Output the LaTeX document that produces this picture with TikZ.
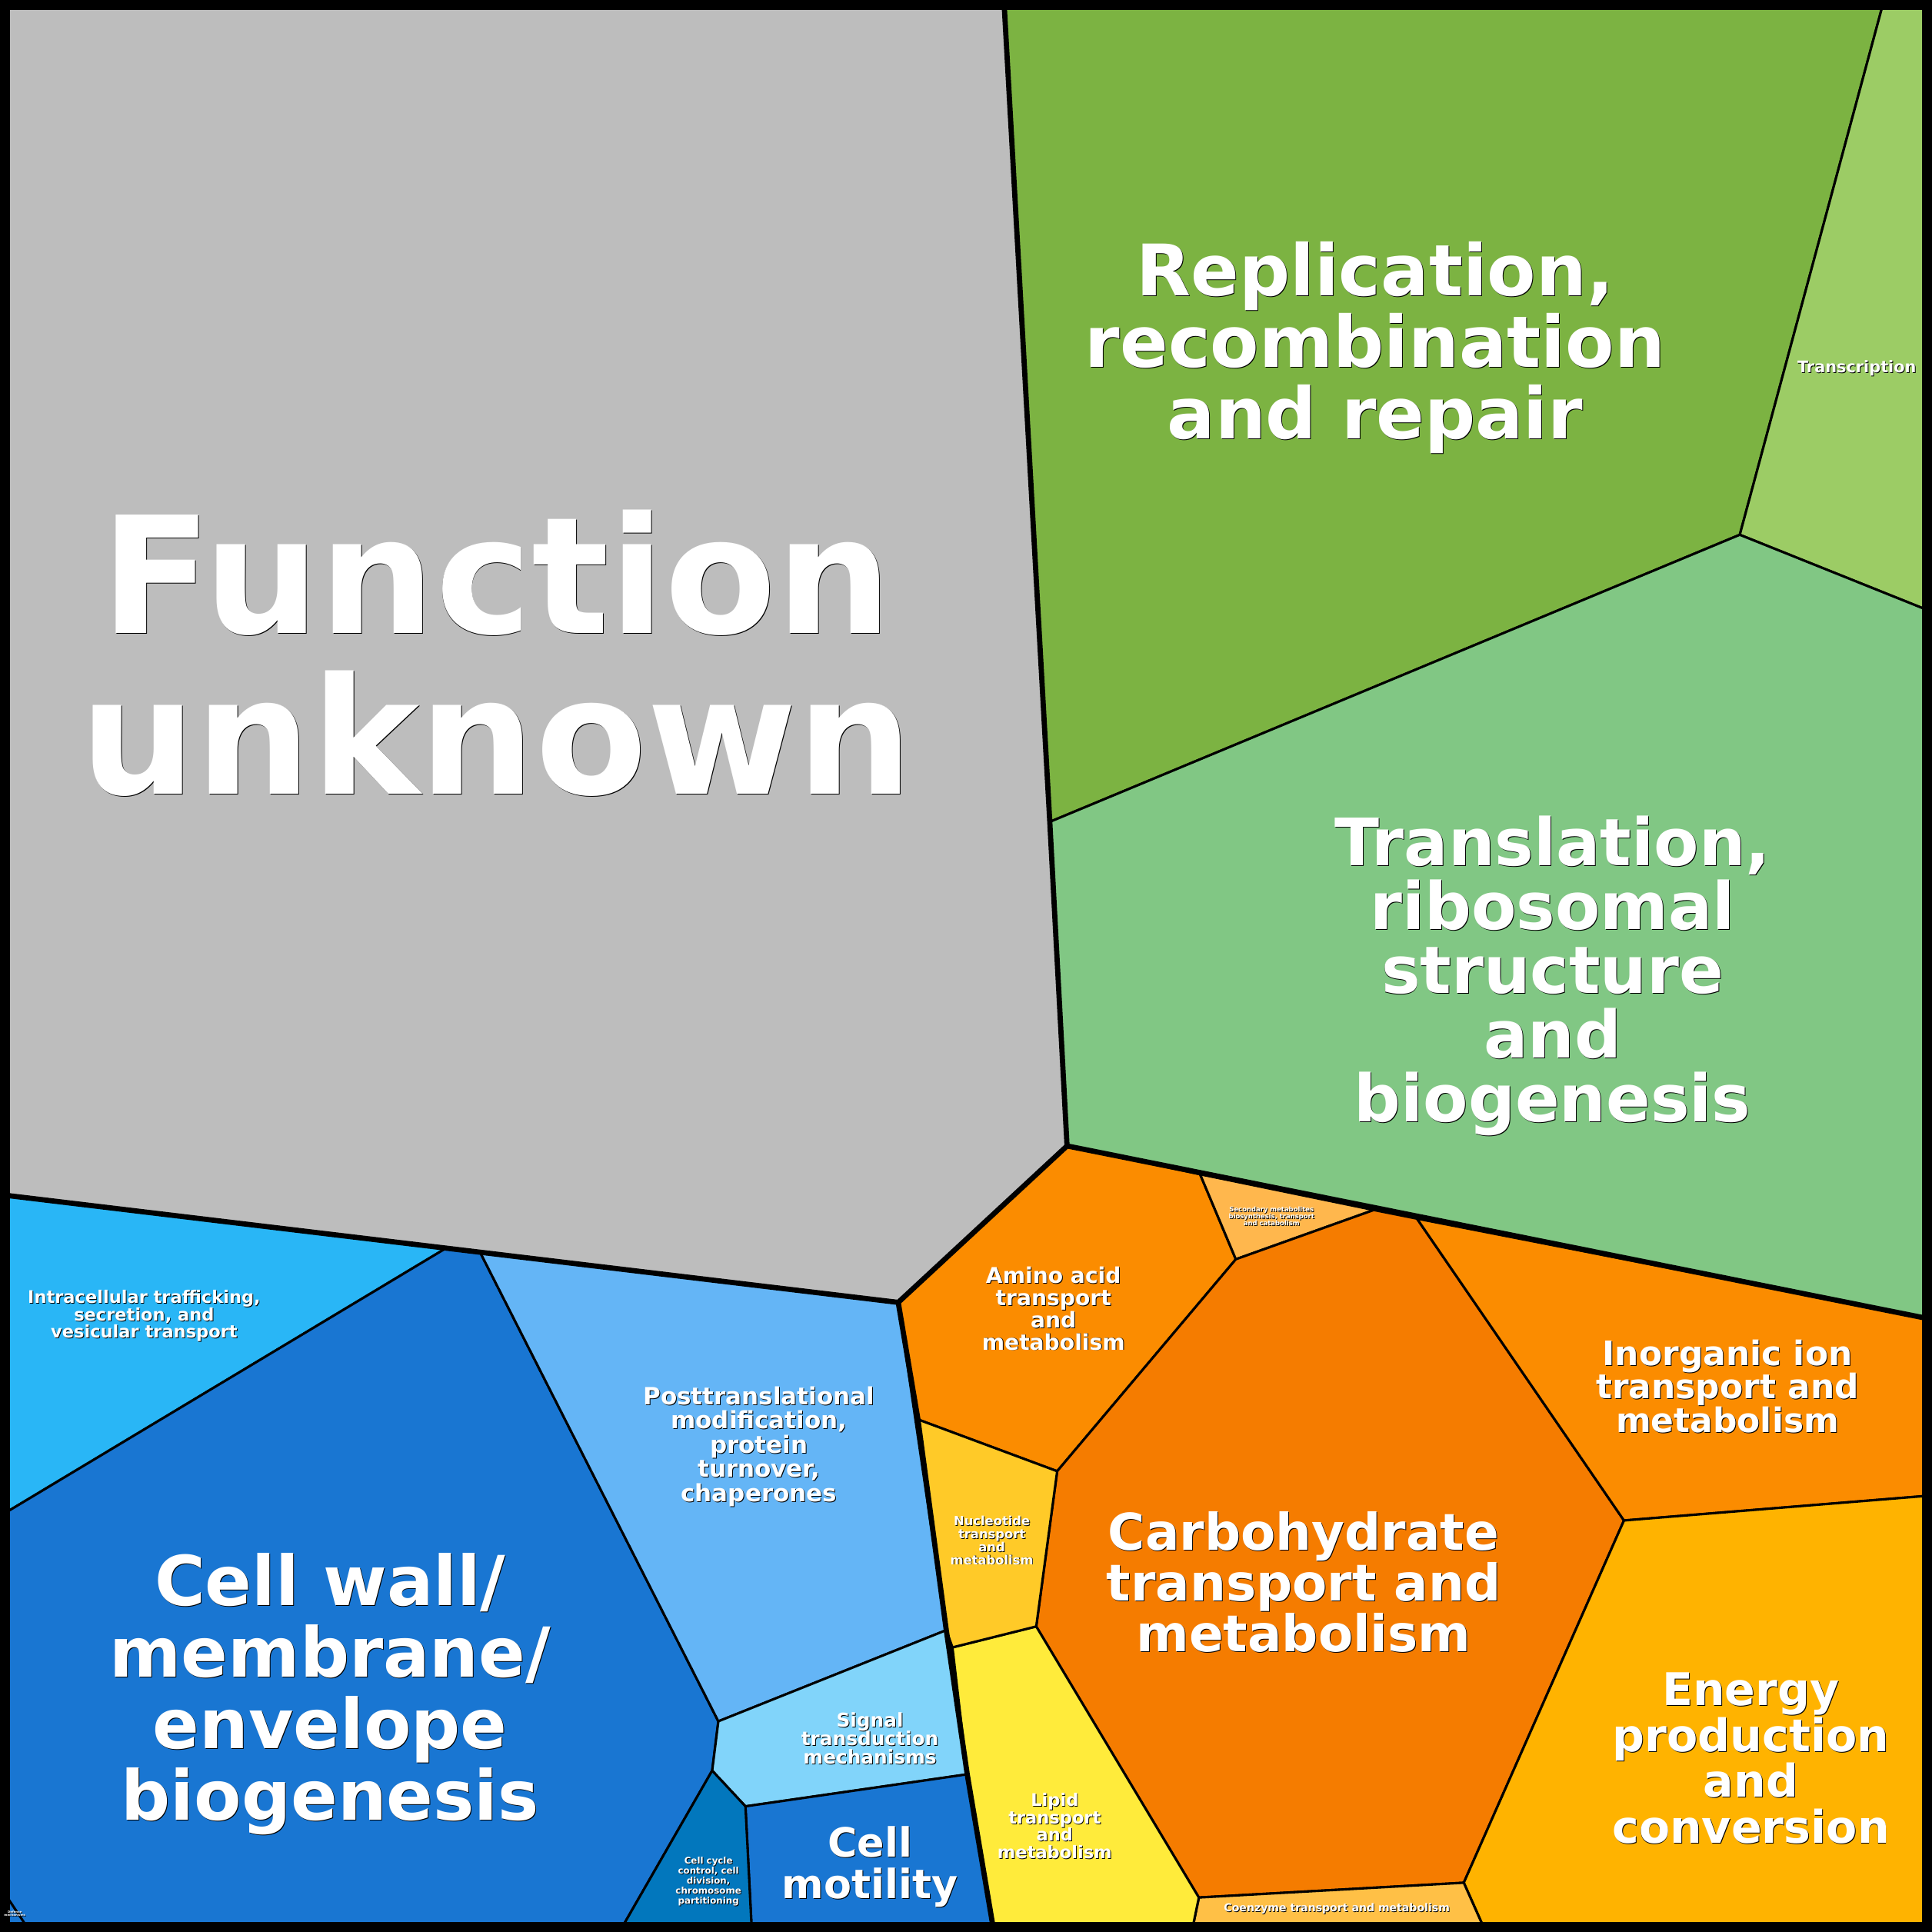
\documentclass[tikz,border=0pt]{standalone}
\usepackage{fontspec}
\setmainfont{DejaVu Sans}
\definecolor{cgray}{HTML}{BDBDBD}
\definecolor{crep}{HTML}{7CB342}
\definecolor{ctrc}{HTML}{9CCC65}
\definecolor{ctrl}{HTML}{81C784}
\definecolor{camino}{HTML}{FB8C00}
\definecolor{csec}{HTML}{FFB74D}
\definecolor{ccarb}{HTML}{F57C00}
\definecolor{cener}{HTML}{FFB300}
\definecolor{ccoen}{HTML}{FFC046}
\definecolor{clip}{HTML}{FFEB3B}
\definecolor{cnuc}{HTML}{FFCA28}
\definecolor{cintra}{HTML}{29B6F6}
\definecolor{cwall}{HTML}{1976D2}
\definecolor{cpost}{HTML}{64B5F6}
\definecolor{csig}{HTML}{81D4FA}
\definecolor{ccyc}{HTML}{0277BD}
\newcommand{\mynls}{\lineskiplimit -100pt\relax}
\tikzset{cell/.style={draw=black,line width=0.55pt,line join=round},
  grp/.style={draw=black,line width=1.2pt,line join=round},
  lbl/.style={align=center,text=white,inner sep=0pt},
  shd/.style={align=center,text=black,inner sep=0pt}}
\newcommand{\lab}[5]{%
  \node[shd,font={\bfseries\fontsize{#3}{#4}\selectfont\mynls}] (#1s) at ($#2+(0.6,0.6)$) {#5};
  \node[lbl,font={\bfseries\fontsize{#3}{#4}\selectfont\mynls}] (#1) at #2 {#5};}
\usetikzlibrary{calc}
\begin{document}
\begin{tikzpicture}[x=0.01cm,y=-0.01cm]
\useasboundingbox (0,0) rectangle (1568,1568);
\fill[black] (0,0) rectangle (1568,1568);
% gray
\path[cell,fill=cgray] (4,4)--(815,4)--(866,930)--(729,1057)--(4,970)--cycle;
% greens
\path[cell,fill=crep] (815,4)--(1528,4)--(1412,434)--(852,667)--cycle;
\path[cell,fill=ctrc] (1528,4)--(1564,4)--(1564,495)--(1412,434)--cycle;
\path[cell,fill=ctrl] (852,667)--(1412,434)--(1564,495)--(1564,1070)--(866,930)--cycle;
% oranges
\path[cell,fill=camino] (866,930)--(974,953)--(1003,1022)--(858,1194)--(745,1152)--(729,1057)--cycle;
\path[cell,fill=csec] (974,953)--(1115,982)--(1003,1022)--cycle;
\path[cell,fill=ccarb] (1003,1022)--(1115,982)--(1150,989)--(1318,1234)--(1188,1528)--(973,1540)--(841,1320)--(858,1194)--cycle;
\path[cell,fill=camino] (1150,989)--(1564,1070)--(1564,1214)--(1318,1234)--cycle;
\path[cell,fill=cener] (1318,1234)--(1564,1214)--(1564,1564)--(1204,1564)--(1188,1528)--cycle;
\path[cell,fill=ccoen] (973,1540)--(1188,1528)--(1204,1564)--(968,1564)--cycle;
\path[cell,fill=clip] (841,1320)--(973,1540)--(968,1564)--(806,1564)--(785,1440)--(773,1337)--cycle;
\path[cell,fill=cnuc] (745,1152)--(858,1194)--(841,1320)--(773,1337)--(768,1323)--cycle;
% blues
\path[cell,fill=cintra] (4,970)--(362,1013)--(4,1228)--cycle;
\path[cell,fill=cwall] (4,1228)--(362,1013)--(390,1017)--(583,1397)--(578,1437)--(505,1564)--(4,1564)--cycle;
\path[cell,fill=cpost] (390,1017)--(729,1057)--(768,1323)--(583,1397)--cycle;
\path[cell,fill=csig] (583,1397)--(768,1323)--(785,1440)--(605,1466)--(578,1437)--cycle;
\path[cell,fill=cwall] (605,1466)--(785,1440)--(806,1564)--(610,1564)--cycle;
\path[cell,fill=ccyc] (578,1437)--(605,1466)--(610,1564)--(505,1564)--cycle;
\path[cell,fill=cwall] (4,1537)--(22,1564)--(4,1564)--cycle;
% group borders
\draw[grp] (4,970)--(729,1057)--(866,930)--(852,667)--(815,4);
\draw[grp] (866,930)--(1564,1070);
\draw[grp] (729,1057)--(745,1152)--(768,1323)--(785,1440)--(806,1564);
\draw[black,line width=2.3pt] (4,4) rectangle (1564,1564);
% labels
\lab{fu}{(403,530)}{37.5}{37}{Function\\unknown}
\lab{rep}{(1116,282)}{16.4}{16.5}{Replication,\\recombination\\and repair}
\lab{trc}{(1507,299)}{3.7}{4}{Transcription}
\lab{trl}{(1260,792)}{15.1}{14.8}{Translation,\\ribosomal\\structure\\and\\biogenesis}
\lab{intra}{(117,1068)}{4.0}{4}{Intracellular trafficking,\\secretion, and\\vesicular transport}
\lab{wall}{(268,1375)}{15.9}{16.5}{Cell wall/\\membrane/\\envelope\\biogenesis}
\lab{post}{(616,1174)}{5.5}{5.6}{Posttranslational\\modification,\\protein\\turnover,\\chaperones}
\lab{sig}{(706,1411)}{4.4}{4.3}{Signal\\transduction\\mechanisms}
\lab{mot}{(706,1515)}{9.3}{9.5}{Cell\\motility}
\lab{cyc}{(575,1527)}{2.1}{2.3}{Cell cycle\\control, cell\\division,\\chromosome\\partitioning}
\lab{amino}{(855,1062)}{5.0}{5.1}{Amino acid\\transport\\and\\metabolism}
\lab{sec}{(1032,987)}{1.5}{1.6}{Secondary metabolites\\biosynthesis, transport\\and catabolism}
\lab{nuc}{(805,1250)}{2.9}{3}{Nucleotide\\transport\\and\\metabolism}
\lab{carb}{(1058,1284)}{11.7}{11.7}{Carbohydrate\\transport and\\metabolism}
\lab{ino}{(1402,1125)}{7.8}{7.7}{Inorganic ion\\transport and\\metabolism}
\lab{ener}{(1421,1427)}{10.4}{10.6}{Energy\\production\\and\\conversion}
\lab{lip}{(856,1482)}{4.0}{4}{Lipid\\transport\\and\\metabolism}
\lab{coen}{(1085,1549)}{2.5}{3}{Coenzyme transport and metabolism}
\lab{def}{(12,1553)}{0.7}{0.8}{Defense\\mechanisms}
\end{tikzpicture}
\end{document}
